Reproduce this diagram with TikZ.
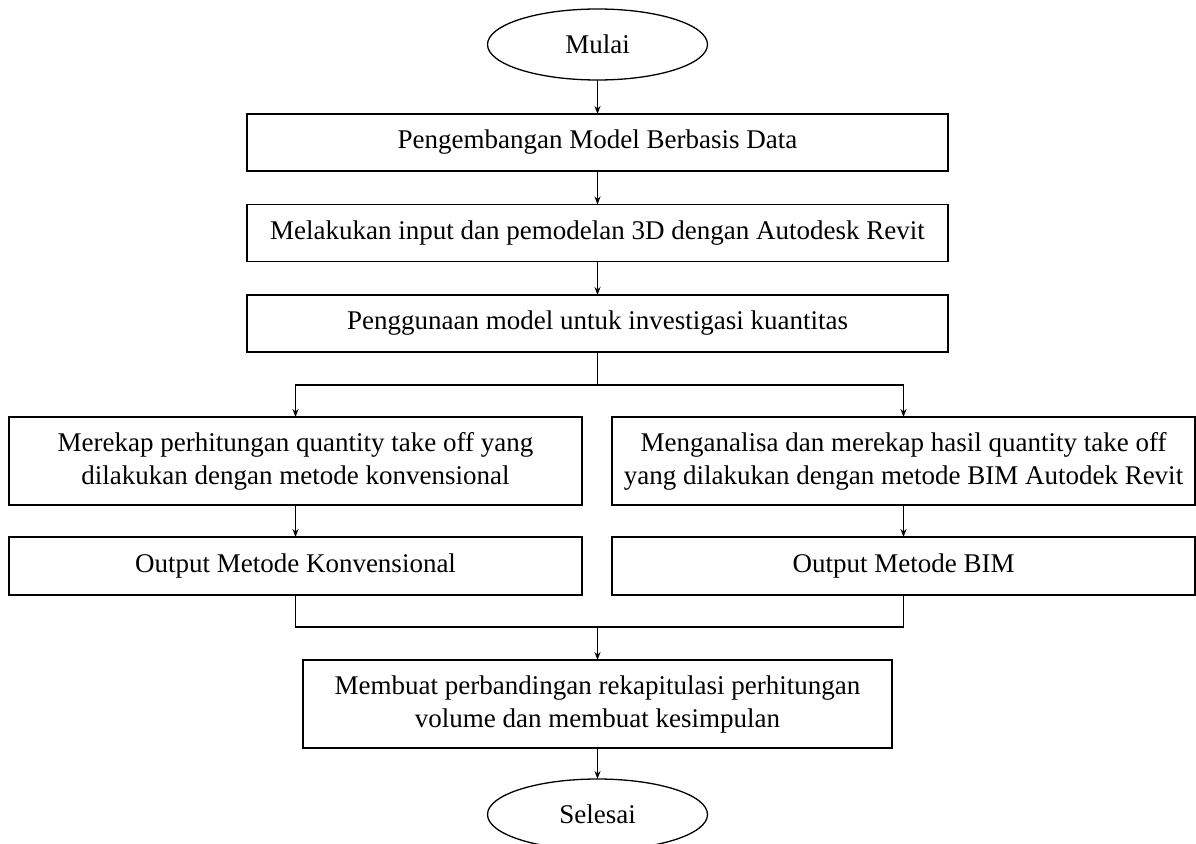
\documentclass[tikz,border=0pt]{standalone}
\usepackage{fontspec}
\setmainfont{Liberation Serif}
\usetikzlibrary{shapes.geometric,arrows.meta}
\begin{document}
\begin{tikzpicture}[x=1pt,y=-1pt,
  box/.style={draw,line width=1.3pt,inner sep=0pt,outer sep=0pt,align=center,font=\fontsize{27}{33}\selectfont},
  term/.style={ellipse,draw,line width=1.3pt,inner sep=0pt,outer sep=0pt,minimum width=220pt,minimum height=71pt,font=\fontsize{27}{33}\selectfont},
  arr/.style={-{Stealth[length=8pt,width=6pt]},line width=1.3pt},
  ln/.style={line width=1.3pt}]
\useasboundingbox (0,0) rectangle (1196,843);
\node[term] (start) at (597.5,44.5) {Mulai};
\node[box,minimum width=701pt,minimum height=57pt] (b1) at (597.5,142.5) {Pengembangan Model Berbasis Data};
\node[box,minimum width=701pt,minimum height=57pt] (b2) at (597.5,233) {Melakukan input dan pemodelan 3D dengan Autodesk Revit};
\node[box,minimum width=701pt,minimum height=57pt] (b3) at (597.5,323.5) {Penggunaan model untuk investigasi kuantitas};
\node[box,minimum width=573pt,minimum height=88pt] (l1) at (295.5,461) {Merekap perhitungan quantity take off yang\\dilakukan dengan metode konvensional};
\node[box,minimum width=583pt,minimum height=88pt] (r1) at (903.5,461) {Menganalisa dan merekap hasil quantity take off\\yang dilakukan dengan metode BIM Autodek Revit};
\node[box,minimum width=573pt,minimum height=58pt] (l2) at (295.5,566) {Output Metode Konvensional};
\node[box,minimum width=583pt,minimum height=58pt] (r2) at (903.5,566) {Output Metode BIM};
\node[box,minimum width=589pt,minimum height=88pt] (m) at (597.5,704) {Membuat perbandingan rekapitulasi perhitungan\\volume dan membuat kesimpulan};
\node[term] (end) at (597.5,814.5) {Selesai};
\coordinate (split) at (597.5,385);
\coordinate (merge) at (597.5,627);
\draw[arr] (start) -- (b1);
\draw[arr] (b1) -- (b2);
\draw[arr] (b2) -- (b3);
\draw[ln] (b3.south) -- (split);
\draw[arr] (split) -| (l1.north);
\draw[arr] (split) -| (r1.north);
\draw[arr] (l1) -- (l2);
\draw[arr] (r1) -- (r2);
\draw[ln] (l2.south) |- (merge);
\draw[ln] (r2.south) |- (merge);
\draw[arr] (merge) -- (m);
\draw[arr] (m) -- (end);
\end{tikzpicture}
\end{document}
